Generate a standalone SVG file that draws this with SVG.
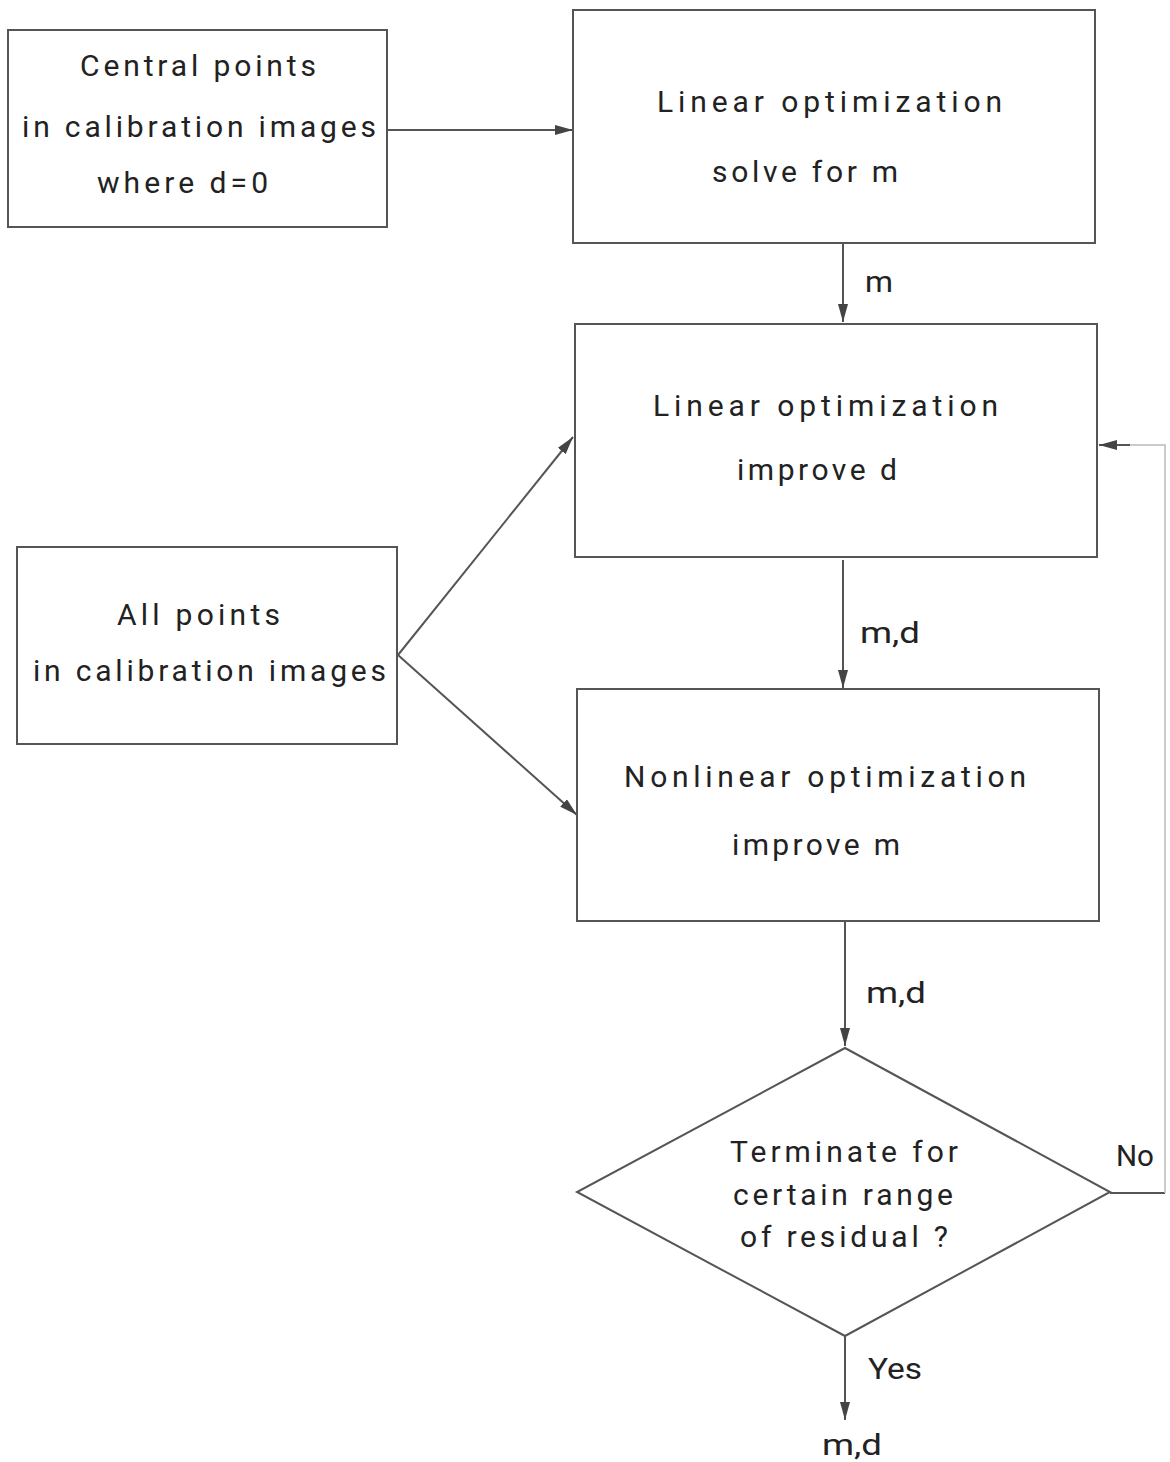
<svg xmlns="http://www.w3.org/2000/svg" width="1170" height="1462" viewBox="0 0 1170 1462">
<defs>
<marker id="arr" markerWidth="18" markerHeight="10" refX="18" refY="5" orient="auto" markerUnits="userSpaceOnUse">
<path d="M0,0 L18,5 L0,10 Z" fill="#444"/>
</marker>
<style>
.box{fill:#fff;stroke:#555;stroke-width:2}
.ln{fill:none;stroke:#555;stroke-width:2}
.fb{fill:none;stroke:#bbb;stroke-width:1.5}
text{font-family:"Roboto","DejaVu Sans","Liberation Sans",sans-serif;font-weight:400;font-size:30px;fill:#222}
</style>
</defs>
<rect width="1170" height="1462" fill="#fff"/>
<g id="connectors">
<line class="ln" x1="387" y1="130" x2="573" y2="130" marker-end="url(#arr)"/>
<line class="ln" x1="843" y1="243" x2="843" y2="322" marker-end="url(#arr)"/>
<line class="ln" x1="843" y1="560" x2="843" y2="688" marker-end="url(#arr)"/>
<line class="ln" x1="845" y1="922" x2="845" y2="1046" marker-end="url(#arr)"/>
<line class="ln" x1="845" y1="1336" x2="845" y2="1420" marker-end="url(#arr)"/>
<line class="ln" x1="398" y1="655" x2="573" y2="437" marker-end="url(#arr)"/>
<line class="ln" x1="398" y1="655" x2="577" y2="815" marker-end="url(#arr)"/>
<polyline class="ln" points="1110,1193 1165,1193"/>
<polyline class="fb" points="1165,1193 1165,445 1130,445"/>
<line class="ln" x1="1130" y1="445" x2="1099" y2="445" marker-end="url(#arr)"/>
<text x="865" y="292" textLength="28" lengthAdjust="spacingAndGlyphs">m</text>
<text x="860" y="643" textLength="60" lengthAdjust="spacingAndGlyphs">m,d</text>
<text x="866" y="1003" textLength="60" lengthAdjust="spacingAndGlyphs">m,d</text>
<text x="1116" y="1166" textLength="38" lengthAdjust="spacingAndGlyphs">No</text>
<text x="868" y="1379" textLength="54" lengthAdjust="spacingAndGlyphs">Yes</text>
<text x="822" y="1455" textLength="60" lengthAdjust="spacingAndGlyphs">m,d</text>
</g>
<g id="node-central">
<rect class="box" x="8" y="30" width="379" height="197"/>
<text x="80" y="76" textLength="236" lengthAdjust="spacing">Central points</text>
<text x="22" y="137" textLength="354" lengthAdjust="spacing">in calibration images</text>
<text x="97" y="193" textLength="171" lengthAdjust="spacing">where d=0</text>
</g>
<g id="node-linear-m">
<rect class="box" x="573" y="10" width="522" height="233"/>
<text x="657" y="112" textLength="345" lengthAdjust="spacing">Linear optimization</text>
<text x="712" y="182" textLength="186" lengthAdjust="spacing">solve for m</text>
</g>
<g id="node-linear-d">
<rect class="box" x="575" y="324" width="522" height="233"/>
<text x="653" y="416" textLength="345" lengthAdjust="spacing">Linear optimization</text>
<text x="737" y="480" textLength="160" lengthAdjust="spacing">improve d</text>
</g>
<g id="node-allpoints">
<rect class="box" x="17" y="547" width="380" height="197"/>
<text x="117" y="625" textLength="163" lengthAdjust="spacing">All points</text>
<text x="33" y="681" textLength="353" lengthAdjust="spacing">in calibration images</text>
</g>
<g id="node-nonlinear">
<rect class="box" x="577" y="689" width="522" height="232"/>
<text x="624" y="787" textLength="402" lengthAdjust="spacing">Nonlinear optimization</text>
<text x="732" y="855" textLength="168" lengthAdjust="spacing">improve m</text>
</g>
<g id="node-decision">
<polygon class="box" points="845,1048 1110,1192 845,1336 577,1192"/>
<text x="730" y="1162" textLength="228" lengthAdjust="spacing">Terminate for</text>
<text x="733" y="1205" textLength="220" lengthAdjust="spacing">certain range</text>
<text x="740" y="1247" textLength="208" lengthAdjust="spacing">of residual ?</text>
</g>
</svg>
